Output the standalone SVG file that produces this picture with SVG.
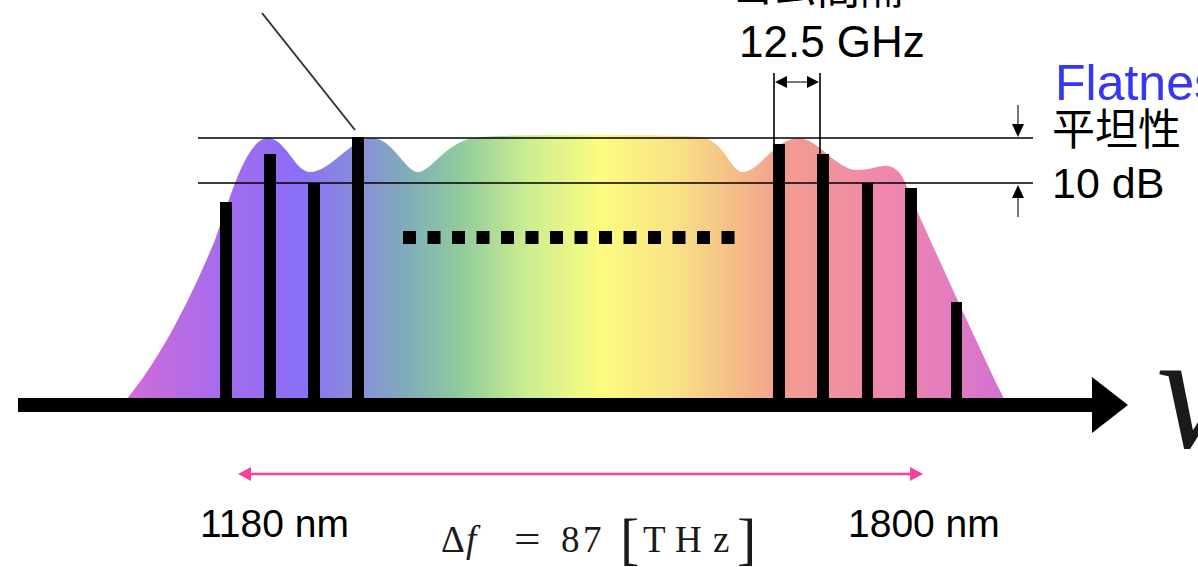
<svg xmlns="http://www.w3.org/2000/svg" width="1198" height="567" viewBox="0 0 1198 567">
<defs>
<linearGradient id="spec" gradientUnits="userSpaceOnUse" x1="122" y1="0" x2="1007" y2="0">
<stop offset="0" stop-color="#d46cd4"/>
<stop offset="0.105" stop-color="#a86cec"/>
<stop offset="0.2" stop-color="#8a6ef8"/>
<stop offset="0.27" stop-color="#8890d8"/>
<stop offset="0.325" stop-color="#80aeb8"/>
<stop offset="0.383" stop-color="#90cc9c"/>
<stop offset="0.46" stop-color="#cdee90"/>
<stop offset="0.54" stop-color="#fcfc80"/>
<stop offset="0.63" stop-color="#f8e086"/>
<stop offset="0.7" stop-color="#f5b888"/>
<stop offset="0.75" stop-color="#f29c90"/>
<stop offset="0.855" stop-color="#f088aa"/>
<stop offset="0.935" stop-color="#e47cc0"/>
<stop offset="1" stop-color="#d070d4"/>
</linearGradient>
<style>
.sans{font-family:"Liberation Sans","Noto Sans CJK JP",sans-serif;fill:#000}
.serif{font-family:"Liberation Serif",serif;fill:#1a1a1a}
.bar{fill:#000}
.thin{stroke:#000;stroke-width:1.6;fill:none}
.gray{stroke:#777;stroke-width:2;fill:none}
.pink{stroke:#f5429a;stroke-width:2.5;fill:none}
</style>
</defs>
<g id="spectrum">
<path fill="url(#spec)" d="M122,405 C160,360 190,300 215,240 C228,205 245,140 267,138 C285,137 295,172 310,172 C330,172 350,140 370,138 C392,136 405,172 418,172 C432,172 445,140 480,137 C520,134 660,134 700,137 C725,140 730,172 743,172 C758,172 775,140 797,138 C818,137 835,170 858,170 C872,170 880,165 888,166 C900,168 905,180 912,200 C935,250 975,340 1007,405 Z"/>
</g>
<g id="levels">
<line class="thin" x1="198" y1="138" x2="1033" y2="138"/>
<line class="thin" x1="198" y1="183" x2="1033" y2="183"/>
</g>
<g id="lines">
<rect class="bar" x="220" y="202" width="12" height="203"/>
<rect class="bar" x="264" y="154" width="12" height="251"/>
<rect class="bar" x="308" y="183" width="12" height="222"/>
<rect class="bar" x="352" y="137" width="12" height="268"/>
<rect class="bar" x="773" y="144" width="12" height="261"/>
<rect class="bar" x="817" y="154" width="12" height="251"/>
<rect class="bar" x="862" y="183" width="11" height="222"/>
<rect class="bar" x="905" y="188" width="12" height="217"/>
<rect class="bar" x="951" y="302" width="11" height="103"/>
</g>
<g id="dots" fill="#000">
<rect x="403" y="231" width="13" height="13"/>
<rect x="427.5" y="231" width="13" height="13"/>
<rect x="452" y="231" width="13" height="13"/>
<rect x="476.5" y="231" width="13" height="13"/>
<rect x="501" y="231" width="13" height="13"/>
<rect x="525.5" y="231" width="13" height="13"/>
<rect x="550" y="231" width="13" height="13"/>
<rect x="574.5" y="231" width="13" height="13"/>
<rect x="599" y="231" width="13" height="13"/>
<rect x="623.5" y="231" width="13" height="13"/>
<rect x="648" y="231" width="13" height="13"/>
<rect x="672.5" y="231" width="13" height="13"/>
<rect x="697" y="231" width="13" height="13"/>
<rect x="721.5" y="231" width="13" height="13"/>
</g>
<g id="axis">
<rect x="18" y="398" width="1076" height="14" fill="#000"/>
<polygon points="1092,377 1128,405 1092,433" fill="#000"/>
<text class="serif" x="1157" y="447" font-size="168" font-style="italic">ν</text>
</g>
<g id="connectors">
<line x1="262" y1="13" x2="355" y2="130" stroke="#333" stroke-width="2"/>
<line class="thin" x1="774" y1="73" x2="774" y2="144"/>
<line class="thin" x1="820" y1="73" x2="820" y2="154"/>
<line class="gray" x1="786" y1="82" x2="808" y2="82"/>
<polygon points="775,82 787,76 787,88" fill="#000"/>
<polygon points="819,82 807,76 807,88" fill="#000"/>
<line class="gray" x1="1018" y1="105" x2="1018" y2="126"/>
<polygon points="1018,137 1012,124 1024,124" fill="#000"/>
<line class="gray" x1="1018" y1="196" x2="1018" y2="217"/>
<polygon points="1018,185 1012,198 1024,198" fill="#000"/>
<line class="pink" x1="248" y1="474" x2="913" y2="474"/>
<polygon points="238,474 251,467 251,481" fill="#f5429a"/>
<polygon points="923,474 910,467 910,481" fill="#f5429a"/>
</g>
<g id="labels">
<text class="sans" x="731" y="4" font-size="43">コム間隔</text>
<text class="sans" x="739" y="57" font-size="44">12.5 GHz</text>
<text x="1055" y="100" font-size="50" font-family="Liberation Sans, sans-serif" fill="#3636f4">Flatness</text>
<text class="sans" x="1052" y="145" font-size="43">平坦性</text>
<text class="sans" x="1052" y="198" font-size="43">10 dB</text>
<text class="sans" x="200" y="537" font-size="39">1180 nm</text>
<text class="sans" x="848" y="537" font-size="39">1800 nm</text>
</g>
<g id="equation" class="serif" font-size="37">
<text x="441" y="552">Δ</text>
<text x="466" y="552" font-style="italic">f</text>
<text x="515" y="552" transform="translate(-140,0) scale(1.27,1)">=</text>
<text x="561" y="552">8</text>
<text x="583" y="552">7</text>
<text x="620" y="558" font-size="58">[</text>
<text x="643" y="552">T</text>
<text x="675" y="552">H</text>
<text x="713" y="552">z</text>
<text x="737" y="558" font-size="58">]</text>
</g>
</svg>
